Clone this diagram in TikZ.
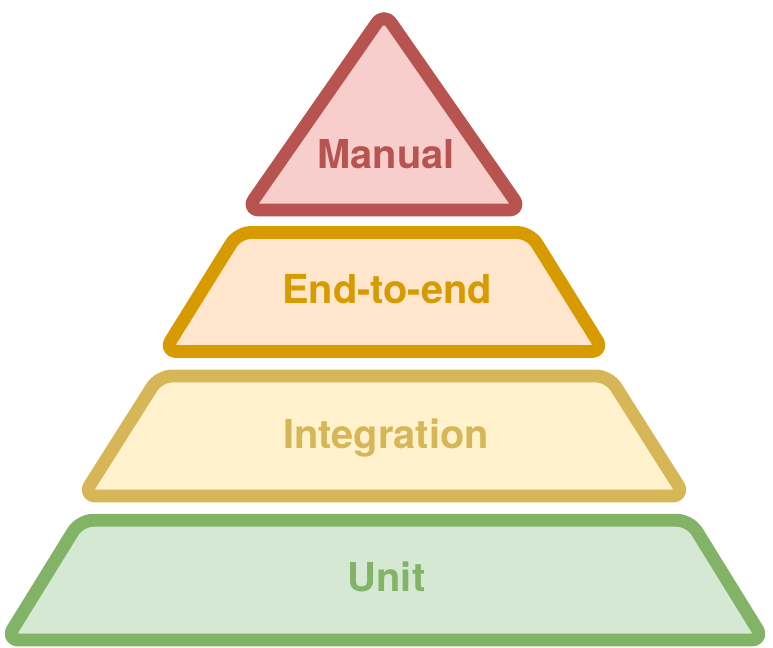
\documentclass[tikz,border=0pt]{standalone}
\usepackage{fontspec}
\setmainfont{TeX Gyre Heros}
\definecolor{manualline}{HTML}{B85450}
\definecolor{manualfill}{HTML}{F8CECC}
\definecolor{etoeline}{HTML}{D79B00}
\definecolor{etoefill}{HTML}{FFE6CC}
\definecolor{integline}{HTML}{D6B656}
\definecolor{integfill}{HTML}{FFF2CC}
\definecolor{unitline}{HTML}{82B366}
\definecolor{unitfill}{HTML}{D5E8D4}
\tikzset{
    % Heavy rounded outline shared by every level of the pyramid
    level outline/.style={line width=11pt, line join=round, rounded corners=#1},
    level outline/.default=11pt,
%
    % Stroke and fill of each level
    manual level/.style={draw=manualline, fill=manualfill},
    etoe level/.style={draw=etoeline, fill=etoefill},
    integ level/.style={draw=integline, fill=integfill},
    unit level/.style={draw=unitline, fill=unitfill},
%
    % Bold centred label, placed on its baseline
    level label/.style={anchor=base, inner sep=0pt,
        font=\bfseries\fontsize{34}{40}\selectfont}}

\begin{document}
\begin{tikzpicture}[x=0.03cm, y=-0.03cm]
\useasboundingbox (0,0) rectangle (773,648);

% Top of the pyramid
\draw [level outline=11pt, manual level]
    (246.5,210) -- (384,12.5) -- (521.5,210) -- cycle;
\node [level label, text=manualline] (manual) at (386,169) {Manual};

% Second level
\draw [level outline, etoe level]
    (164,351.5) -- (238,232.5) -- (530,232.5) -- (604,351.5) -- cycle;
\node [level label, text=etoeline] (end to end) at (387,303) {End-to-end};

% Third level
\draw [level outline, integ level]
    (83,496) -- (159,376) -- (609,376) -- (685,496) -- cycle;
\node [level label, text=integline] (integration) at (386,448) {Integration};

% Base of the pyramid
\draw [level outline, unit level]
    (6,640) -- (80,520.3) -- (690,520.3) -- (764,640) -- cycle;
\node [level label, text=unitline] (unit) at (386.5,591) {Unit};

\end{tikzpicture}
\end{document}
